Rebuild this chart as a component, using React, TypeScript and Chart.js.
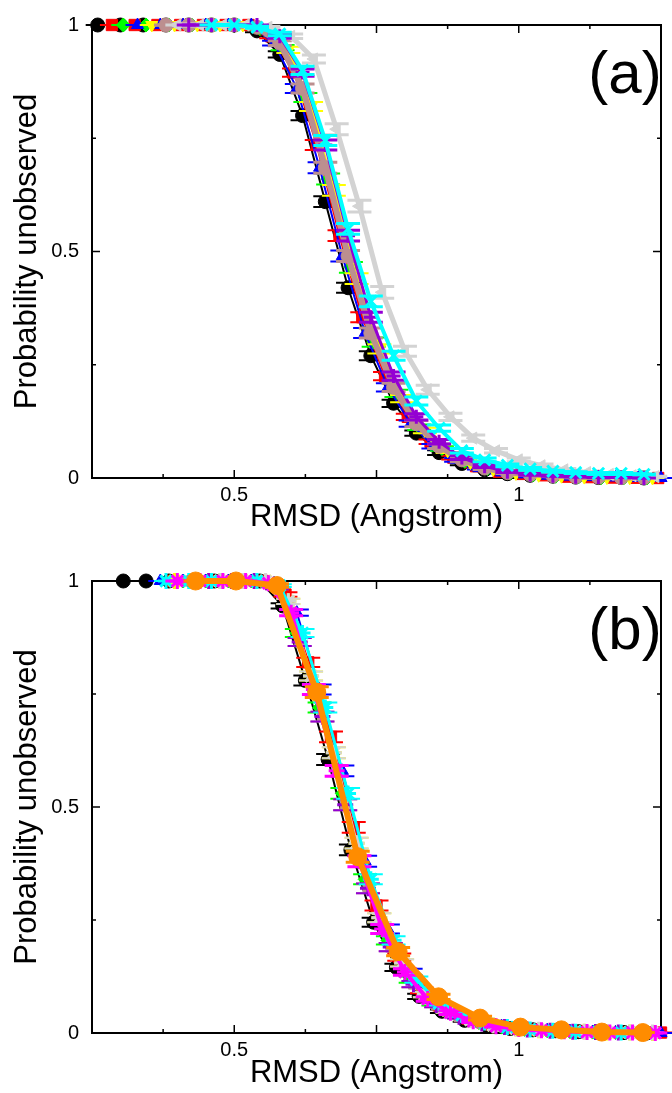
import React, { useEffect, useRef } from 'react';
import { Chart, registerables } from 'chart.js';

Chart.register(...registerables);
Chart.defaults.font.family = '"Liberation Sans", Arial, Helvetica, sans-serif';
Chart.defaults.color = '#000';

type Pt = [number, number, number]; // [rmsd, probability, error]

// ---------- Panel (a) ----------
const aBlack: Pt[] = [[0.26,1,0],[0.30,1,0],[0.34,1,0],[0.38,1,0],[0.42,1,0],[0.46,1,0],[0.50,1,0],[0.54,0.987,0.003],[0.58,0.935,0.007],[0.62,0.80,0.01],[0.66,0.61,0.012],[0.70,0.42,0.011],[0.74,0.27,0.01],[0.78,0.165,0.008],[0.82,0.099,0.006],[0.86,0.056,0.005],[0.90,0.032,0.004],[0.94,0.018,0.003],[0.98,0.0095,0.002],[1.02,0.006,0.002],[1.06,0.004,0.001],[1.10,0.002,0.001],[1.14,0.001,0.001],[1.18,0.001,0.001],[1.22,0,0]];
const aRed: Pt[] = [[0.285,1,0],[0.325,1,0],[0.365,1,0],[0.405,1,0],[0.445,1,0],[0.485,1,0],[0.525,1,0],[0.565,0.975,0.004],[0.605,0.895,0.009],[0.645,0.735,0.011],[0.685,0.535,0.012],[0.725,0.355,0.011],[0.765,0.225,0.009],[0.805,0.135,0.007],[0.845,0.08,0.005],[0.885,0.045,0.004],[0.925,0.026,0.003],[0.965,0.014,0.002],[1.005,0.009,0.002],[1.045,0.006,0.001],[1.085,0.003,0.001],[1.125,0.002,0.001],[1.165,0.001,0.001],[1.205,0.0005,0],[1.245,0,0]];
const aGreen: Pt[] = [[0.305,1,0],[0.345,1,0],[0.385,1,0],[0.425,1,0],[0.465,1,0],[0.505,1,0],[0.545,0.992,0.002],[0.585,0.95,0.006],[0.625,0.84,0.01],[0.665,0.66,0.012],[0.705,0.465,0.012],[0.745,0.30,0.01],[0.785,0.187,0.008],[0.825,0.112,0.006],[0.865,0.065,0.005],[0.905,0.037,0.004],[0.945,0.021,0.003],[0.985,0.011,0.002],[1.025,0.007,0.002],[1.065,0.004,0.001],[1.105,0.003,0.001],[1.145,0.001,0.001],[1.185,0.001,0],[1.225,0,0]];
const aBlue: Pt[] = [[0.33,1,0],[0.37,1,0],[0.41,1,0],[0.45,1,0],[0.49,1,0],[0.53,1,0],[0.57,0.96,0.005],[0.61,0.86,0.01],[0.65,0.685,0.012],[0.69,0.49,0.012],[0.73,0.32,0.011],[0.77,0.20,0.009],[0.81,0.12,0.007],[0.85,0.07,0.005],[0.89,0.04,0.004],[0.93,0.022,0.003],[0.97,0.012,0.002],[1.01,0.008,0.002],[1.05,0.005,0.001],[1.09,0.003,0.001],[1.13,0.002,0.001],[1.17,0.001,0],[1.21,0,0],[1.25,0,0]];
const aYellow: Pt[] = [[0.355,1,0],[0.395,1,0],[0.435,1,0],[0.475,1,0],[0.515,1,0],[0.555,0.99,0.003],[0.595,0.945,0.007],[0.635,0.82,0.01],[0.675,0.635,0.012],[0.715,0.44,0.012],[0.755,0.285,0.01],[0.795,0.175,0.008],[0.835,0.105,0.006],[0.875,0.06,0.005],[0.915,0.034,0.004],[0.955,0.019,0.003],[0.995,0.010,0.002],[1.035,0.006,0.002],[1.075,0.004,0.001],[1.115,0.002,0.001],[1.155,0.001,0.001],[1.195,0.0005,0],[1.235,0,0]];
const aBrown: Pt[] = [[0.38,1,0],[0.42,1,0],[0.46,1,0],[0.50,1,0],[0.54,0.995,0.002],[0.58,0.96,0.005],[0.62,0.86,0.01],[0.66,0.685,0.012],[0.70,0.49,0.012],[0.74,0.32,0.011],[0.78,0.20,0.009],[0.82,0.12,0.007],[0.86,0.07,0.005],[0.90,0.04,0.004],[0.94,0.022,0.003],[0.98,0.012,0.002],[1.02,0.008,0.002],[1.06,0.005,0.001],[1.10,0.003,0.001],[1.14,0.002,0.001],[1.18,0.001,0],[1.22,0.001,0]];
const aGray: Pt[] = [[0.40,1,0],[0.44,1,0],[0.48,1,0],[0.52,1,0],[0.56,0.995,0.002],[0.60,0.975,0.005],[0.64,0.925,0.009],[0.68,0.77,0.012],[0.72,0.60,0.013],[0.76,0.41,0.013],[0.80,0.28,0.011],[0.84,0.195,0.01],[0.88,0.135,0.008],[0.92,0.088,0.007],[0.96,0.06,0.005],[1.00,0.04,0.004],[1.04,0.027,0.004],[1.08,0.018,0.003],[1.12,0.012,0.002],[1.16,0.008,0.002],[1.20,0.005,0.001],[1.24,0.003,0.001]];
const aPurple: Pt[] = [[0.42,1,0],[0.46,1,0],[0.50,1,0],[0.54,1,0],[0.58,0.975,0.004],[0.62,0.895,0.008],[0.66,0.735,0.011],[0.70,0.535,0.012],[0.74,0.355,0.011],[0.78,0.225,0.009],[0.82,0.135,0.007],[0.86,0.08,0.005],[0.90,0.045,0.004],[0.94,0.026,0.003],[0.98,0.014,0.002],[1.02,0.008,0.002],[1.06,0.005,0.001],[1.10,0.003,0.001],[1.14,0.002,0.001],[1.18,0.001,0],[1.22,0,0]];
const aCyan: Pt[] = [[0.46,1,0],[0.50,1,0],[0.54,0.995,0.002],[0.58,0.98,0.004],[0.62,0.90,0.009],[0.66,0.745,0.011],[0.70,0.55,0.012],[0.74,0.39,0.012],[0.78,0.27,0.01],[0.82,0.17,0.009],[0.86,0.11,0.007],[0.90,0.06,0.005],[0.94,0.04,0.004],[0.98,0.028,0.003],[1.02,0.02,0.003],[1.06,0.015,0.002],[1.10,0.012,0.002],[1.14,0.01,0.002],[1.18,0.01,0.002],[1.22,0.008,0.001]];

// ---------- Panel (b) ----------
const bBlack: Pt[] = [[0.305,1,0],[0.345,1,0],[0.385,1,0],[0.425,1,0],[0.465,1,0],[0.505,1,0],[0.545,1,0],[0.585,0.945,0.006],[0.625,0.78,0.011],[0.665,0.605,0.012],[0.705,0.405,0.012],[0.745,0.245,0.01],[0.785,0.145,0.008],[0.825,0.081,0.006],[0.865,0.048,0.004],[0.905,0.028,0.003],[0.945,0.016,0.002],[0.985,0.01,0.002],[1.025,0.007,0.001],[1.065,0.005,0.001],[1.105,0.003,0.001],[1.145,0.001,0.001],[1.185,0.001,0],[1.225,0,0]];
const bRed: Pt[] = [[0.39,1,0],[0.43,1,0],[0.47,1,0],[0.51,1,0],[0.55,1,0],[0.59,0.97,0.005],[0.63,0.82,0.01],[0.67,0.655,0.012],[0.71,0.455,0.012],[0.75,0.282,0.011],[0.79,0.168,0.008],[0.83,0.094,0.006],[0.87,0.055,0.005],[0.91,0.032,0.004],[0.95,0.019,0.003],[0.99,0.011,0.002],[1.03,0.007,0.002],[1.07,0.004,0.001],[1.11,0.003,0.001],[1.15,0.002,0.001],[1.19,0.001,0.001],[1.23,0.001,0],[1.25,0.001,0]];
const bGreen: Pt[] = [[0.41,1,0],[0.45,1,0],[0.49,1,0],[0.53,1,0],[0.57,0.99,0.003],[0.61,0.885,0.009],[0.65,0.72,0.011],[0.69,0.53,0.012],[0.73,0.34,0.011],[0.77,0.205,0.009],[0.81,0.118,0.007],[0.85,0.066,0.005],[0.89,0.04,0.004],[0.93,0.023,0.003],[0.97,0.013,0.002],[1.01,0.008,0.002],[1.05,0.005,0.001],[1.09,0.003,0.001],[1.13,0.002,0.001],[1.17,0.001,0],[1.21,0,0]];
const bBlue: Pt[] = [[0.37,1,0],[0.41,1,0],[0.45,1,0],[0.49,1,0],[0.53,1,0],[0.57,0.995,0.002],[0.61,0.93,0.007],[0.65,0.76,0.011],[0.69,0.58,0.012],[0.73,0.38,0.012],[0.77,0.23,0.01],[0.81,0.135,0.007],[0.85,0.075,0.005],[0.89,0.045,0.004],[0.93,0.026,0.003],[0.97,0.015,0.002],[1.01,0.009,0.002],[1.05,0.006,0.001],[1.09,0.004,0.001],[1.13,0.002,0.001],[1.17,0.001,0],[1.21,0.001,0],[1.25,0,0]];
const bYellow: Pt[] = [[0.395,1,0],[0.435,1,0],[0.475,1,0],[0.515,1,0],[0.555,1,0],[0.595,0.955,0.006],[0.635,0.79,0.01],[0.675,0.62,0.012],[0.715,0.42,0.012],[0.755,0.255,0.01],[0.795,0.155,0.008],[0.835,0.085,0.006],[0.875,0.05,0.005],[0.915,0.029,0.003],[0.955,0.017,0.002],[0.995,0.01,0.002],[1.035,0.006,0.001],[1.075,0.004,0.001],[1.115,0.003,0.001],[1.155,0.001,0],[1.195,0.001,0],[1.235,0,0]];
const bBrown: Pt[] = [[0.415,1,0],[0.455,1,0],[0.495,1,0],[0.535,1,0],[0.575,0.985,0.003],[0.615,0.865,0.009],[0.655,0.70,0.011],[0.695,0.505,0.012],[0.735,0.32,0.011],[0.775,0.19,0.009],[0.815,0.108,0.007],[0.855,0.062,0.005],[0.895,0.036,0.004],[0.935,0.021,0.003],[0.975,0.013,0.002],[1.015,0.008,0.002],[1.055,0.005,0.001],[1.095,0.003,0.001],[1.135,0.002,0.001],[1.175,0.001,0],[1.215,0.001,0]];
const bGray: Pt[] = [[0.435,1,0],[0.475,1,0],[0.515,1,0],[0.555,1,0],[0.595,0.955,0.006],[0.635,0.79,0.01],[0.675,0.62,0.012],[0.715,0.42,0.012],[0.755,0.255,0.01],[0.795,0.155,0.008],[0.835,0.085,0.006],[0.875,0.05,0.005],[0.915,0.029,0.003],[0.955,0.017,0.002],[0.995,0.01,0.002],[1.035,0.007,0.001],[1.075,0.005,0.001],[1.115,0.003,0.001],[1.155,0.002,0.001],[1.195,0.001,0],[1.235,0.001,0]];
const bPurple: Pt[] = [[0.455,1,0],[0.495,1,0],[0.535,1,0],[0.575,0.985,0.003],[0.615,0.865,0.009],[0.655,0.70,0.011],[0.695,0.505,0.012],[0.735,0.32,0.011],[0.775,0.19,0.009],[0.815,0.108,0.007],[0.855,0.062,0.005],[0.895,0.036,0.004],[0.935,0.021,0.003],[0.975,0.013,0.002],[1.015,0.008,0.002],[1.055,0.005,0.001],[1.095,0.003,0.001],[1.135,0.002,0.001],[1.175,0.001,0],[1.215,0,0]];
const bCyan: Pt[] = [[0.38,1,0],[0.42,1,0],[0.46,1,0],[0.50,1,0],[0.54,1,0],[0.58,0.99,0.003],[0.62,0.885,0.009],[0.66,0.72,0.011],[0.70,0.53,0.012],[0.74,0.34,0.011],[0.78,0.205,0.009],[0.82,0.118,0.007],[0.86,0.066,0.005],[0.90,0.04,0.004],[0.94,0.023,0.003],[0.98,0.013,0.002],[1.02,0.008,0.002],[1.06,0.005,0.001],[1.10,0.003,0.001],[1.14,0.002,0.001],[1.18,0.001,0],[1.22,0.001,0]];
const bMagenta: Pt[] = [[0.40,1,0],[0.44,1,0],[0.48,1,0],[0.52,1,0],[0.56,0.995,0.002],[0.60,0.93,0.007],[0.64,0.76,0.011],[0.68,0.58,0.012],[0.72,0.38,0.012],[0.76,0.23,0.01],[0.80,0.135,0.007],[0.84,0.075,0.005],[0.88,0.045,0.004],[0.92,0.026,0.003],[0.96,0.015,0.002],[1.00,0.009,0.002],[1.04,0.006,0.001],[1.08,0.004,0.001],[1.12,0.002,0.001],[1.16,0.001,0],[1.20,0.001,0],[1.24,0,0]];
const bOrange: Pt[] = [[0.432,1,0],[0.503,1,0],[0.575,0.99,0.004],[0.645,0.754,0.012],[0.717,0.39,0.012],[0.788,0.18,0.009],[0.859,0.08,0.006],[0.932,0.033,0.004],[1.003,0.013,0.002],[1.075,0.007,0.002],[1.146,0.002,0.001],[1.218,0.001,0]];

// axis ticks
const X_MIN = 0.25, X_MAX = 1.25, X_STEP = 0.125;
const X_LABELS: [number, string][] = [[0.5, '0.5'], [1, '1']];
const Y_MIN = 0, Y_MAX = 1, Y_STEP = 0.25;
const Y_LABELS: [number, string][] = [[0, '0'], [0.5, '0.5'], [1, '1']];
const X_TITLE = 'RMSD (Angstrom)';
const Y_TITLE = 'Probability unobserved';

interface SeriesDef { data: Pt[]; color: string; style: string; radius: number; lineWidth: number; rotation?: number; pb?: number; ew?: number; }

const seriesA: SeriesDef[] = [
  { data: aBlack, color: '#000000', style: 'circle', radius: 7, lineWidth: 2 },
  { data: aRed, color: '#ff0000', style: 'rect', radius: 8, lineWidth: 2 },
  { data: aGreen, color: '#00ff00', style: 'rectRot', radius: 7, lineWidth: 2 },
  { data: aBlue, color: '#0000ff', style: 'triangle', radius: 7, lineWidth: 2 },
  { data: aYellow, color: '#ffff00', style: 'triangle', radius: 7, lineWidth: 3, rotation: 180 },
  { data: aBrown, color: '#bc8f8f', style: 'circle', radius: 7, lineWidth: 6, ew: 3 },
  { data: aGray, color: '#d3d3d3', style: 'triangle', radius: 7, lineWidth: 5, rotation: -90, ew: 3 },
  { data: aPurple, color: '#9400d3', style: 'cross', radius: 7, lineWidth: 3, pb: 3, ew: 3 },
  { data: aCyan, color: '#00ffff', style: 'crossRot', radius: 8, lineWidth: 4, pb: 3, ew: 3 },
];

const seriesB: SeriesDef[] = [
  { data: bBlack, color: '#000000', style: 'circle', radius: 7, lineWidth: 2 },
  { data: bRed, color: '#ff0000', style: 'rect', radius: 8, lineWidth: 3 },
  { data: bGreen, color: '#00ff00', style: 'rectRot', radius: 7, lineWidth: 2 },
  { data: bBlue, color: '#0000ff', style: 'triangle', radius: 7, lineWidth: 2 },
  { data: bYellow, color: '#ffff00', style: 'star', radius: 8, lineWidth: 2, pb: 3 },
  { data: bBrown, color: '#bc8f8f', style: 'rect', radius: 7, lineWidth: 3 },
  { data: bGray, color: '#d3d3d3', style: 'star', radius: 8, lineWidth: 3, pb: 3 },
  { data: bPurple, color: '#9400d3', style: 'cross', radius: 8, lineWidth: 2, pb: 3 },
  { data: bCyan, color: '#00ffff', style: 'star', radius: 8, lineWidth: 3, pb: 3 },
  { data: bMagenta, color: '#ff00ff', style: 'star', radius: 8, lineWidth: 4, pb: 3, ew: 3 },
  { data: bOrange, color: '#ff8c00', style: 'circle', radius: 9, lineWidth: 6, ew: 3 },
];

const CAP = 12;

const near = (a: number, b: number) => Math.abs(a - b) < 1e-6;

const errorBars = {
  id: 'errorBars',
  beforeDatasetDraw(chart: any, args: any) {
    const ds: any = chart.data.datasets[args.index];
    const xs = chart.scales.x, ys = chart.scales.y;
    const ctx = chart.ctx;
    ctx.save();
    ctx.strokeStyle = ds.borderColor;
    ctx.lineWidth = ds.errWidth || 2;
    ctx.beginPath();
    for (const p of ds.data) {
      const px = xs.getPixelForValue(p.x);
      const y1 = ys.getPixelForValue(p.y + p.e);
      const y2 = ys.getPixelForValue(p.y - p.e);
      ctx.moveTo(px, y1); ctx.lineTo(px, y2);
      ctx.moveTo(px - CAP, y1); ctx.lineTo(px + CAP, y1);
      ctx.moveTo(px - CAP, y2); ctx.lineTo(px + CAP, y2);
    }
    ctx.stroke();
    ctx.restore();
  },
};

const frame = {
  id: 'frame',
  beforeDatasetsDraw(chart: any) {
    const { ctx, chartArea } = chart;
    const { left, right, top, bottom } = chartArea;
    const xs = chart.scales.x, ys = chart.scales.y;
    ctx.save();
    ctx.strokeStyle = '#000';
    ctx.lineWidth = 1.5;
    ctx.beginPath();
    for (const t of xs.ticks) {
      const v = t.value;
      const px = xs.getPixelForValue(v);
      const len = near(v / 0.25, Math.round(v / 0.25)) ? 8 : 4;
      ctx.moveTo(px, bottom); ctx.lineTo(px, bottom - len);
      ctx.moveTo(px, top); ctx.lineTo(px, top + len);
    }
    for (const t of ys.ticks) {
      const v = t.value;
      const py = ys.getPixelForValue(v);
      const len = near(v / 0.5, Math.round(v / 0.5)) ? 8 : 4;
      ctx.moveTo(left, py); ctx.lineTo(left + len, py);
      ctx.moveTo(right, py); ctx.lineTo(right - len, py);
    }
    ctx.stroke();
    ctx.lineWidth = 2;
    ctx.strokeRect(left, top, right - left, bottom - top);
    ctx.restore();
  },
};

const panelLabel = {
  id: 'panelLabel',
  afterDraw(chart: any, _args: any, opts: any) {
    const ctx = chart.ctx;
    ctx.save();
    ctx.fillStyle = '#000';
    ctx.font = '60px "Liberation Sans", Arial, sans-serif';
    ctx.textAlign = 'center';
    ctx.textBaseline = 'middle';
    ctx.fillText(opts.text, opts.x, opts.y);
    ctx.restore();
  },
};

function buildDatasets(defs: SeriesDef[]) {
  const n = defs.length;
  return defs.map((d, i) => ({
    data: d.data.map((p) => ({ x: p[0], y: p[1], e: p[2] })),
    borderColor: d.color,
    backgroundColor: d.color,
    borderWidth: d.lineWidth,
    pointStyle: d.style,
    pointRadius: d.radius,
    pointHoverRadius: d.radius,
    pointRotation: d.rotation || 0,
    pointBackgroundColor: d.color,
    pointBorderColor: d.color,
    pointBorderWidth: d.pb || 1,
    tension: 0,
    fill: false,
    clip: false,
    order: n - i,
    errWidth: d.ew || 2,
  }));
}

interface PanelProps { defs: SeriesDef[]; height: number; top: number; bottom: number; titlePad: number; label: string; }

function ChartPanel({ defs, height, top, bottom, titlePad, label }: PanelProps) {
  const ref = useRef<HTMLCanvasElement>(null);
  useEffect(() => {
    if (!ref.current) return;
    const xLab = (v: any) => { const f = X_LABELS.find((l) => near(l[0], Number(v))); return f ? f[1] : ''; };
    const yLab = (v: any) => { const f = Y_LABELS.find((l) => near(l[0], Number(v))); return f ? f[1] : ''; };
    const chart = new Chart(ref.current, {
      type: 'line',
      data: { datasets: buildDatasets(defs) as any },
      plugins: [errorBars, frame, panelLabel],
      options: {
        responsive: false,
        animation: false,
        events: [],
        layout: { padding: { top, right: 3, left: 0, bottom: 0 } },
        plugins: {
          legend: { display: false },
          tooltip: { enabled: false },
          panelLabel: { text: label, x: 625, y: 76 },
        } as any,
        scales: {
          x: {
            type: 'linear',
            min: X_MIN,
            max: X_MAX,
            afterFit: (s: any) => { s.height = height - bottom; },
            grid: { display: false, drawTicks: false },
            border: { display: false },
            ticks: { stepSize: X_STEP, autoSkip: false, maxRotation: 0, minRotation: 0, padding: 5, color: '#000', font: { size: 20 }, callback: xLab },
            title: { display: true, text: X_TITLE, color: '#000', font: { size: 31 }, padding: { top: 0, bottom: titlePad } },
          },
          y: {
            type: 'linear',
            min: Y_MIN,
            max: Y_MAX,
            afterFit: (s: any) => { s.width = 92; },
            grid: { display: false, drawTicks: false },
            border: { display: false },
            ticks: { stepSize: Y_STEP, autoSkip: false, padding: 13, color: '#000', font: { size: 20 }, callback: yLab },
            title: { display: true, text: Y_TITLE, color: '#000', font: { size: 31 }, padding: { top: 9, bottom: 0 } },
          },
        },
      } as any,
    });
    return () => chart.destroy();
  }, [defs, height, top, bottom, titlePad, label]);
  return <canvas ref={ref} width={672} height={height} style={{ display: 'block', width: 672, height }} />;
}

export default function App() {
  return (
    <div style={{ position: 'relative', width: 672, height: 1093, overflow: 'hidden', background: '#fff' }}>
      <style>{'html,body{margin:0;padding:0;overflow:hidden;background:#fff}'}</style>
      <div style={{ position: 'absolute', left: 0, top: 0 }}>
        <ChartPanel defs={seriesA} height={545} top={24} bottom={478} titlePad={9} label="(a)" />
      </div>
      <div style={{ position: 'absolute', left: 0, top: 556 }}>
        <ChartPanel defs={seriesB} height={537} top={25} bottom={477} titlePad={1} label="(b)" />
      </div>
    </div>
  );
}
